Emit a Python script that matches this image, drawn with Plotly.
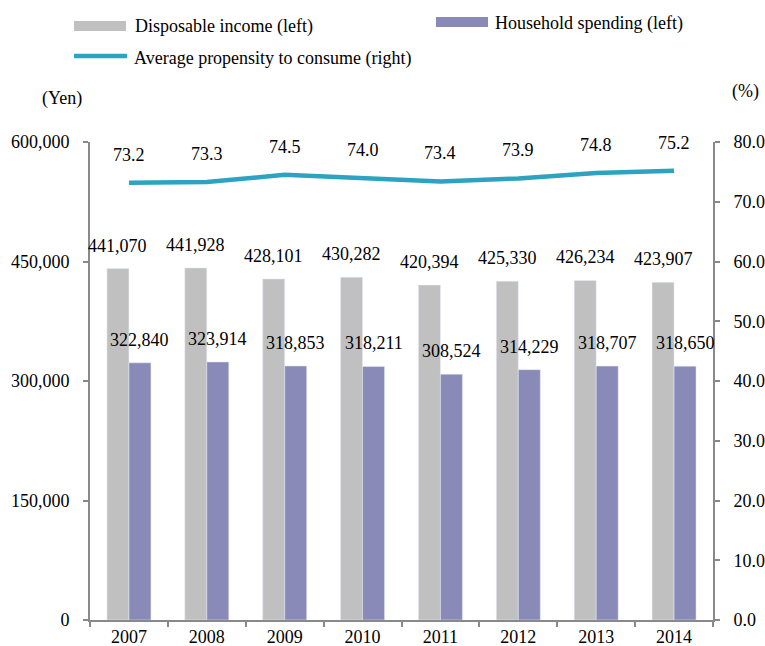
import plotly.graph_objects as go

# Household income and spending, 2007-2014
years = ["2007", "2008", "2009", "2010", "2011", "2012", "2013", "2014"]
disposable_income = [441070, 441928, 428101, 430282, 420394, 425330, 426234, 423907]
household_spending = [322840, 323914, 318853, 318211, 308524, 314229, 318707, 318650]
propensity = [73.2, 73.3, 74.5, 74.0, 73.4, 73.9, 74.8, 75.2]

left_ticks = [0, 150000, 300000, 450000, 600000]
right_ticks = [0, 10, 20, 30, 40, 50, 60, 70, 80]

GRAY = "#C0C0C0"
PURPLE = "#8A8AB9"
TEAL = "#2CA3C1"
AXIS = "#898989"
FONT = "Liberation Serif"
FS = 18

W, H = 765, 646
L, R, T, B = 90, 52, 142, 26
PW, PH = W - L - R, H - T - B


def px(x):
    return (x - L) / PW


def py(y):
    return 1 - (y - T) / PH


fig = go.Figure()
fig.add_bar(x=years, y=disposable_income, marker_color=GRAY, name="Disposable income (left)")
fig.add_bar(x=years, y=household_spending, marker_color=PURPLE, name="Household spending (left)")
fig.add_scatter(x=years, y=propensity, yaxis="y2", mode="lines",
                line=dict(color=TEAL, width=4.5), name="Average propensity to consume (right)")

ann = []
for i, v in enumerate(disposable_income):
    ann.append(dict(x=i, y=v, xref="x", yref="y", text=f"{v:,}", showarrow=False,
                    xshift=-11, yshift=23, yanchor="middle"))
for i, v in enumerate(household_spending):
    ann.append(dict(x=i, y=v, xref="x", yref="y", text=f"{v:,}", showarrow=False,
                    xshift=11, yshift=23, yanchor="middle"))
for i, v in enumerate(propensity):
    ann.append(dict(x=i, y=v, xref="x", yref="y2", text=f"{v:.1f}", showarrow=False,
                    yshift=28, yanchor="middle"))

# axis unit captions
ann.append(dict(x=px(62), y=py(98), xref="paper", yref="paper", text="(Yen)",
                showarrow=False, xanchor="center", yanchor="middle"))
ann.append(dict(x=px(745), y=py(91), xref="paper", yref="paper", text="(%)",
                showarrow=False, xanchor="center", yanchor="middle"))

# legend
shapes = [
    dict(type="rect", xref="paper", yref="paper", x0=px(74), x1=px(126), y0=py(21), y1=py(31),
         fillcolor=GRAY, line_width=0),
    dict(type="rect", xref="paper", yref="paper", x0=px(436), x1=px(488), y0=py(17), y1=py(27),
         fillcolor=PURPLE, line_width=0),
    dict(type="line", xref="paper", yref="paper", x0=px(74), x1=px(127), y0=py(56), y1=py(56),
         line=dict(color=TEAL, width=4.5)),
]
legend_items = [(133, 27, "Disposable income (left)"),
                (493, 23, "Household spending (left)"),
                (132, 58, "Average propensity to consume (right)")]
for x, y, t in legend_items:
    ann.append(dict(x=px(x), y=py(y), xref="paper", yref="paper", text=t, showarrow=False,
                    xanchor="left", yanchor="middle"))

fig.update_layout(
    width=W, height=H,
    margin=dict(l=L, r=R, t=T, b=B, autoexpand=False),
    paper_bgcolor="white", plot_bgcolor="white",
    font=dict(family=FONT, size=FS, color="black"),
    barmode="group", bargap=0.435, bargroupgap=0,
    showlegend=False,
    annotations=ann, shapes=shapes,
    xaxis=dict(type="category", range=[-0.5, len(years) - 0.5], autorange=False,
               automargin=False, tickangle=0, showline=True, linecolor=AXIS, linewidth=2,
               ticks="outside", tickson="boundaries", ticklen=5, tickcolor=AXIS, tickwidth=2,
               ticklabelstandoff=-1, showgrid=False, zeroline=False),
    yaxis=dict(range=[0, 600000], tickvals=left_ticks, tickformat=",d", automargin=False,
               showline=True, linecolor=AXIS, linewidth=2,
               ticks="outside", ticklen=5, tickcolor=AXIS, tickwidth=2,
               ticklabelstandoff=10, showgrid=False, zeroline=False),
    yaxis2=dict(range=[0, 80], tickvals=right_ticks, tickformat=".1f", overlaying="y",
                automargin=False, side="right", showline=True, linecolor=AXIS, linewidth=2,
                ticks="outside", ticklen=5, tickcolor=AXIS, tickwidth=2,
                ticklabelstandoff=10, showgrid=False, zeroline=False),
)

fig.write_html("out.html")
